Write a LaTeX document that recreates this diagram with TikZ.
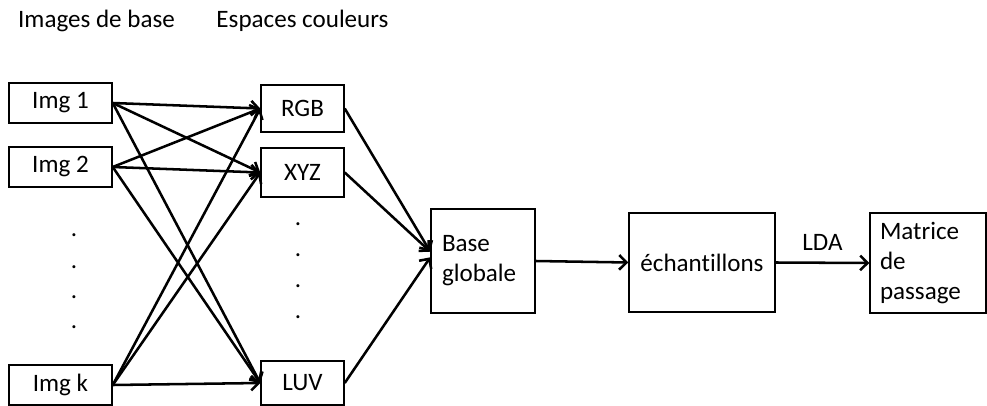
\documentclass[tikz,border=0pt]{standalone}
\usepackage{fontspec}
\setmainfont{Carlito}[Ligatures=NoCommon]
\usepackage{tikz}
\usetikzlibrary{arrows.meta}
\newlength\px
\setlength\px{0.75pt}
\tikzset{every picture/.style={line width=1.9pt}}
\tikzset{txt/.style={inner sep=0pt, font=\fontsize{18.8}{22.5}\selectfont}}
\tikzset{box/.style={txt, draw, line width=1.1pt}}
\tikzset{link/.style={-{Straight Barb[length=5.5pt,width=11pt]}}}

\begin{document}
\begin{tikzpicture}[x=0.75pt,y=-0.75pt]
\useasboundingbox (0,0) rectangle (987,406);
\node[txt] (t1) at (96.5,21) {Images de base};
\node[txt] (t2) at (302.5,21) {Espaces couleurs};
\node[box, minimum width=103\px, minimum height=40\px] (img1) at (60.5,103) {Img 1};
\node[box, minimum width=103\px, minimum height=40\px] (img2) at (60.5,167) {Img 2};
\node[box, minimum width=103\px, minimum height=40\px] (imgk) at (60.5,385) {Img k};
\node[box, minimum width=83\px, minimum height=47\px] (rgb) at (302.5,108.5) {RGB};
\node[box, minimum width=83\px, minimum height=49\px] (xyz) at (302.5,172.5) {XYZ};
\node[box, minimum width=83\px, minimum height=44\px] (luv) at (302.5,383) {LUV};
\foreach \y [count=\i] in {235,267,297,327}
  \node[txt] (dl\i) at (74,\y) {.};
\foreach \y [count=\i] in {224,255,286,317}
  \node[txt] (dr\i) at (298,\y) {.};
\node[box, minimum width=104\px, minimum height=104\px, text width=82\px, align=left] (bg) at (483,261) {Base\\globale};
\node[box, minimum width=146\px, minimum height=99\px] (ech) at (702,262.5) {échantillons};
\node[box, minimum width=116\px, minimum height=100\px, text width=96\px, align=left] (mat) at (928,263) {Matrice\\de\\passage};
\foreach \a in {img1,img2,imgk}
  \foreach \b in {rgb,xyz,luv}
    \draw[link] (\a.east) -- (\b.west);
\draw[link] (rgb.east) -- (bg.170);
\draw[link] (xyz.east) -- (bg.170);
\draw[link] (luv.east) -- (bg.176);
\draw[link] (bg.east) -- (ech.west);
\draw[link] (ech.east) -- node[txt, above=8pt] (lda) {LDA} (mat.west);
\end{tikzpicture}
\end{document}
